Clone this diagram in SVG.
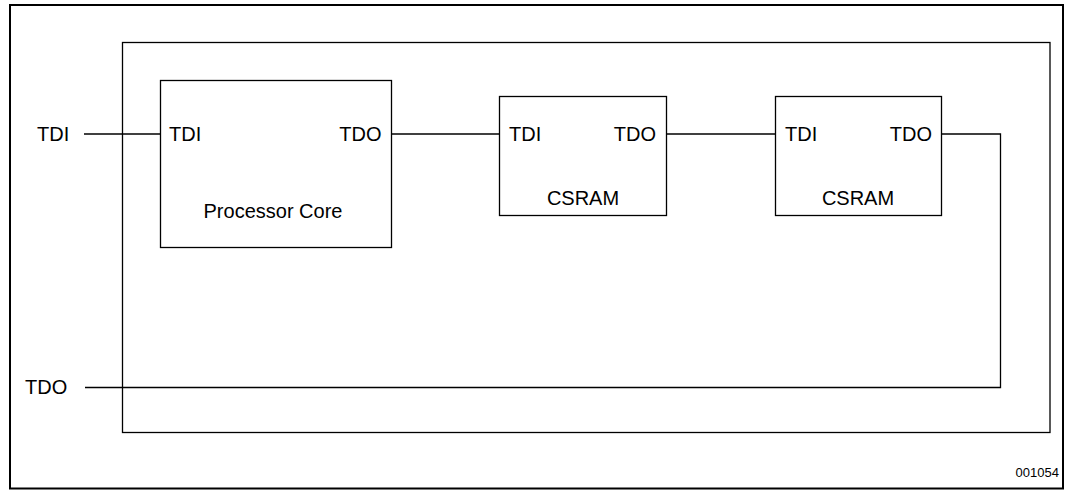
<svg xmlns="http://www.w3.org/2000/svg" width="1066" height="491" viewBox="0 0 1066 491">
<style>
.box{fill:#fff;stroke:#000;stroke-width:1.3}
.wire{fill:none;stroke:#000;stroke-width:1.3}
text{font-family:"Liberation Sans",Arial,sans-serif;font-size:20px;fill:#000}
.small{font-size:13px}
</style>
<rect x="0" y="0" width="1066" height="491" fill="#fff"/>
<g id="frame"><rect x="10" y="5" width="1053" height="483.5" fill="none" stroke="#000" stroke-width="2"/></g>
<g id="chip"><rect class="box" x="122.5" y="42.5" width="927.5" height="390"/></g>
<g id="connectors">
<path class="wire" d="M84 134H160"/>
<path class="wire" d="M391 134H499"/>
<path class="wire" d="M666 134H775"/>
<path class="wire" d="M941 134H1000.5V387.5H85"/>
</g>
<g id="processor-core">
<rect class="box" x="160.5" y="80.5" width="231" height="167"/>
<text x="169" y="141">TDI</text>
<text x="381.5" y="141" text-anchor="end">TDO</text>
<text x="273" y="218" text-anchor="middle">Processor Core</text>
</g>
<g id="csram1">
<rect class="box" x="499.5" y="96.5" width="167" height="119"/>
<text x="509" y="141">TDI</text>
<text x="656" y="141" text-anchor="end">TDO</text>
<text x="583" y="205" text-anchor="middle">CSRAM</text>
</g>
<g id="csram2">
<rect class="box" x="775.5" y="96.5" width="166" height="119"/>
<text x="785" y="141">TDI</text>
<text x="932" y="141" text-anchor="end">TDO</text>
<text x="858" y="205" text-anchor="middle">CSRAM</text>
</g>
<g id="pin-tdi"><text x="37" y="141">TDI</text></g>
<g id="pin-tdo"><text x="25" y="394">TDO</text></g>
<text class="small" x="1059" y="477" text-anchor="end">001054</text>
</svg>
